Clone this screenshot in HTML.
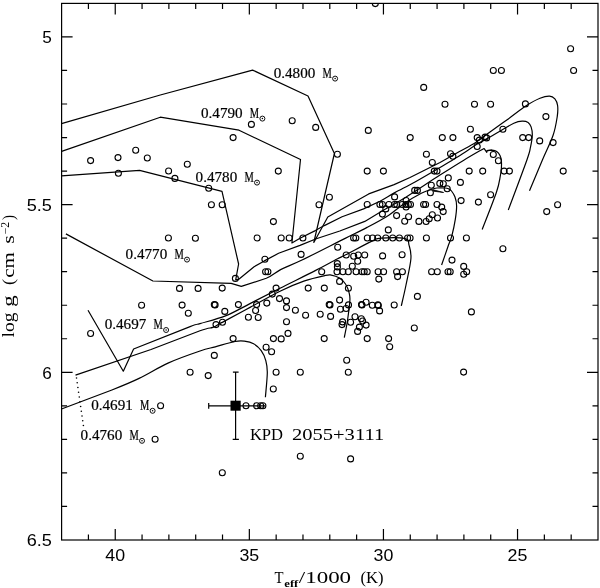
<!DOCTYPE html>
<html><head><meta charset="utf-8"><style>
html,body{margin:0;padding:0;background:#fff;}
svg{display:block;filter:grayscale(1);}
</style></head><body>
<svg width="600" height="588" viewBox="0 0 600 588">
<defs><clipPath id="cp"><rect x="61.6" y="3.4" width="536.4" height="536.6"/></clipPath></defs>
<rect x="61.6" y="3.4" width="536.4" height="536.6" fill="none" stroke="#000" stroke-width="1.2"/>
<path d="M571.18 540.0v-5.5M571.18 3.4v5.5M544.36 540.0v-5.5M544.36 3.4v5.5M517.54 540.0v-11M517.54 3.4v11M490.72 540.0v-5.5M490.72 3.4v5.5M463.90 540.0v-5.5M463.90 3.4v5.5M437.08 540.0v-5.5M437.08 3.4v5.5M410.26 540.0v-5.5M410.26 3.4v5.5M383.44 540.0v-11M383.44 3.4v11M356.62 540.0v-5.5M356.62 3.4v5.5M329.80 540.0v-5.5M329.80 3.4v5.5M302.98 540.0v-5.5M302.98 3.4v5.5M276.16 540.0v-5.5M276.16 3.4v5.5M249.34 540.0v-11M249.34 3.4v11M222.52 540.0v-5.5M222.52 3.4v5.5M195.70 540.0v-5.5M195.70 3.4v5.5M168.88 540.0v-5.5M168.88 3.4v5.5M142.06 540.0v-5.5M142.06 3.4v5.5M115.24 540.0v-11M115.24 3.4v11M88.42 540.0v-5.5M88.42 3.4v5.5M61.6 36.94h11M598.0 36.94h-11M61.6 70.47h5.5M598.0 70.47h-5.5M61.6 104.01h5.5M598.0 104.01h-5.5M61.6 137.55h5.5M598.0 137.55h-5.5M61.6 171.09h5.5M598.0 171.09h-5.5M61.6 204.62h11M598.0 204.62h-11M61.6 238.16h5.5M598.0 238.16h-5.5M61.6 271.70h5.5M598.0 271.70h-5.5M61.6 305.24h5.5M598.0 305.24h-5.5M61.6 338.77h5.5M598.0 338.77h-5.5M61.6 372.31h11M598.0 372.31h-11M61.6 405.85h5.5M598.0 405.85h-5.5M61.6 439.39h5.5M598.0 439.39h-5.5M61.6 472.92h5.5M598.0 472.92h-5.5M61.6 506.46h5.5M598.0 506.46h-5.5" fill="none" stroke="#000" stroke-width="1.2"/>
<g font-family="Liberation Sans, sans-serif" font-size="17.2"><text x="105.3" y="560.9" textLength="19.8" lengthAdjust="spacingAndGlyphs">40</text><text x="239.4" y="560.9" textLength="19.8" lengthAdjust="spacingAndGlyphs">35</text><text x="373.5" y="560.9" textLength="19.8" lengthAdjust="spacingAndGlyphs">30</text><text x="507.6" y="560.9" textLength="19.8" lengthAdjust="spacingAndGlyphs">25</text><text x="51.9" y="43.3" text-anchor="end">5</text><text x="26.7" y="211.0" textLength="25.2" lengthAdjust="spacingAndGlyphs">5.5</text><text x="51.9" y="378.7" text-anchor="end">6</text><text x="26.7" y="546.4" textLength="25.2" lengthAdjust="spacingAndGlyphs">6.5</text></g>
<path d="M484.0 148.4 L486.8 152.3 L487.0 150.6 L492.0 150.2" fill="none" stroke="#000" stroke-width="1.2" stroke-linejoin="round"/>
<path d="M487.0 150.6 L492.0 150.2 C493.6 150.3 495.4 150.6 496.7 151.5 C498.0 152.4 499.2 153.9 500.0 155.5 C500.8 157.1 501.2 158.9 501.4 161.0 C501.6 163.1 501.6 165.5 501.4 168.0 C501.2 170.5 501.1 172.0 500.3 176.0 C499.5 180.0 499.5 183.1 496.5 192.0 C493.5 200.9 484.6 223.2 482.2 229.5" fill="none" stroke="#000" stroke-width="1.2" stroke-linejoin="round"/>
<path d="M61.5 123.7 L160.3 95.0 L252.6 70.1 L308.0 96.0 L334.4 153.5 L313.8 242.5 L327.8 217.0 L368.7 193.9 L394.1 184.6 L410.0 177.5 L425.0 170.0 L440.0 162.5 L459.5 151.5 C465.4 148.2 470.6 145.7 475.7 142.4 C480.8 139.1 484.6 135.8 490.0 131.9 C495.4 128.0 501.9 123.5 507.9 119.2 C513.9 114.9 520.4 109.6 525.7 106.1 C531.1 102.6 536.0 99.9 540.0 98.3 C544.0 96.7 547.0 96.1 549.5 96.2 C552.0 96.3 553.5 97.4 554.9 98.9 C556.2 100.5 557.2 102.6 557.6 105.5 C558.0 108.4 558.0 111.2 557.3 116.2 C556.5 121.2 555.6 127.9 553.1 135.2 C550.6 142.5 546.3 150.8 542.4 160.0 C538.5 169.2 531.6 185.6 529.5 190.7" fill="none" stroke="#000" stroke-width="1.2" stroke-linejoin="round"/>
<path d="M61.6 151.4 L160.3 117.2 L239.0 130.2 L300.5 159.5 L291.9 243.0 L300.0 238.3 L315.3 230.6 L324.3 225.6 L342.1 216.7 L363.6 208.9 L380.0 201.2 C385.2 198.5 389.0 195.8 394.8 192.6 C400.6 189.4 407.5 186.1 415.0 181.9 C422.5 177.7 432.9 171.6 440.0 167.4 C447.1 163.2 451.5 160.7 457.9 156.7 C464.2 152.7 472.8 146.9 478.1 143.6 C483.5 140.3 486.0 139.3 490.0 137.0 C494.0 134.7 497.9 132.2 501.9 129.9 C505.9 127.6 510.4 124.8 513.8 123.3 C517.2 121.8 519.7 121.3 522.1 121.2 C524.5 121.1 526.6 121.5 528.1 122.4 C529.6 123.4 530.4 124.8 531.1 126.9 C531.8 129.0 532.4 131.8 532.3 135.2 C532.2 138.6 531.4 143.0 530.5 147.1 C529.6 151.2 530.6 149.5 526.9 160.0 C523.2 170.5 511.4 201.7 508.3 210.0" fill="none" stroke="#000" stroke-width="1.2" stroke-linejoin="round"/>
<path d="M61.5 175.9 L139.6 170.4 L222.0 191.4 L238.6 264.0 L235.7 279.8 L238.8 279.3 L254.1 266.7 L264.3 260.9 L278.6 253.3 L300.0 245.4 L316.3 238.8 L339.8 231.0 L364.8 221.4 L382.9 210.5 C389.6 206.6 395.5 203.6 405.0 197.7 C414.5 191.8 430.2 181.3 440.0 175.1 C449.8 168.8 456.5 164.6 463.8 160.2 C471.1 155.8 480.6 150.4 484.0 148.4" fill="none" stroke="#000" stroke-width="1.2" stroke-linejoin="round"/>
<path d="M65.9 233.9 L152.9 281.0 L231.1 283.4 L241.3 286.4 L266.3 278.3 C272.9 275.5 274.7 272.7 280.6 269.6 C286.6 266.6 291.1 265.2 302.0 260.0 C312.9 254.8 334.8 243.5 345.7 238.1 C356.6 232.7 359.9 231.2 367.1 227.4 C374.3 223.6 382.5 219.3 388.8 215.2 C395.1 211.1 399.6 206.7 405.0 203.0 C410.4 199.3 416.9 195.6 421.3 193.3 C425.8 191.0 429.1 190.1 431.7 189.2 C434.3 188.3 434.8 188.2 437.0 188.0 C439.2 187.8 443.1 187.9 445.0 188.0 C446.9 188.1 447.4 188.3 448.5 188.8 C449.6 189.3 450.4 189.6 451.5 191.0 C452.6 192.4 454.1 194.5 455.0 197.0 C455.9 199.5 456.6 202.1 456.6 205.8 C456.7 209.5 456.1 214.4 455.3 219.4 C454.5 224.4 453.0 231.4 451.9 235.7 C450.8 240.0 450.2 240.1 448.5 245.0 C446.8 249.9 442.8 261.7 441.6 265.0" fill="none" stroke="#000" stroke-width="1.2" stroke-linejoin="round"/>
<path d="M75.5 375.1 L151.0 349.5 L200.0 330.8 C210.3 327.1 209.5 328.6 212.8 327.4 C216.1 326.2 217.5 324.7 219.6 323.6 C221.7 322.5 220.4 323.3 225.5 320.6 C230.6 317.9 240.9 312.3 250.0 307.4 C259.1 302.5 271.0 295.6 280.0 291.2 C289.0 286.8 296.3 283.7 303.8 281.1 C311.3 278.5 320.6 276.5 325.2 275.5 C329.8 274.5 328.8 274.7 331.2 275.1 C333.6 275.5 337.1 276.6 339.5 278.1 C341.9 279.6 343.9 281.6 345.5 284.0 C347.1 286.4 348.3 289.7 349.0 292.4 C349.7 295.1 350.1 295.5 349.9 300.2 C349.6 304.9 348.4 314.2 347.5 320.5 C346.6 326.8 344.8 334.8 344.3 337.7" fill="none" stroke="#000" stroke-width="1.2" stroke-linejoin="round"/>
<path d="M88.0 310.2 L123.3 371.2 L133.6 349.0 L190.1 326.6 C201.2 322.4 194.1 325.4 200.0 323.6 C205.9 321.8 217.2 319.2 225.5 315.9 C233.8 312.6 240.9 308.2 250.0 303.6 C259.1 299.0 269.1 293.7 280.0 288.2 C290.9 282.7 306.2 275.3 315.7 270.4 C325.2 265.5 332.1 261.6 337.1 259.0 C342.1 256.4 339.9 257.8 345.7 254.8 C351.5 251.8 366.0 243.9 371.9 241.1 C377.8 238.3 375.5 238.5 381.0 238.1 C386.5 237.7 400.3 237.4 405.0 238.6 C409.7 239.8 408.1 242.1 409.1 245.4 C410.1 248.8 411.4 252.1 410.9 258.7 C410.4 265.3 407.6 277.1 406.0 285.0 C404.4 292.9 402.1 302.4 401.3 305.9" fill="none" stroke="#000" stroke-width="1.2" stroke-linejoin="round"/>
<path d="M61.5 409.0 L111.9 390.0 C124.8 384.9 129.8 382.9 139.1 378.4 C148.4 373.9 157.8 367.7 168.0 363.1 C178.2 358.5 192.1 353.7 200.0 351.0 C207.9 348.3 209.4 348.4 215.3 346.8 C221.2 345.2 230.3 342.4 235.2 341.5 C240.0 340.6 241.3 340.8 244.4 341.2 C247.5 341.6 250.8 342.2 253.6 343.8 C256.4 345.4 259.2 347.9 261.2 350.7 C263.2 353.5 264.8 356.9 265.8 360.6 C266.8 364.3 267.4 366.8 267.3 372.9 C267.2 379.0 265.7 393.2 265.4 397.3" fill="none" stroke="#000" stroke-width="1.2" stroke-linejoin="round"/>
<path d="M432.5 189.6 L443.6 192.5 L433.5 191.2" fill="#000" stroke="#000" stroke-width="0.8" stroke-linejoin="round"/>
<g clip-path="url(#cp)" fill="none" stroke="#000" stroke-width="1.1"><circle cx="90.6" cy="160.6" r="3.0"/><circle cx="118.0" cy="157.6" r="3.0"/><circle cx="135.7" cy="150.2" r="3.0"/><circle cx="147.3" cy="158.0" r="3.0"/><circle cx="118.4" cy="173.3" r="3.0"/><circle cx="168.6" cy="171.0" r="3.0"/><circle cx="174.9" cy="178.4" r="3.0"/><circle cx="168.4" cy="238.0" r="3.0"/><circle cx="187.3" cy="164.2" r="3.0"/><circle cx="195.4" cy="238.2" r="3.0"/><circle cx="179.5" cy="288.4" r="3.0"/><circle cx="198.1" cy="288.4" r="3.0"/><circle cx="182.1" cy="305.1" r="3.0"/><circle cx="188.3" cy="313.3" r="3.0"/><circle cx="190.1" cy="372.3" r="3.0"/><circle cx="141.6" cy="305.3" r="3.0"/><circle cx="90.6" cy="333.5" r="3.0"/><circle cx="160.6" cy="405.8" r="3.0"/><circle cx="155.1" cy="439.3" r="3.0"/><circle cx="375.3" cy="3.6" r="3.0"/><circle cx="570.6" cy="48.8" r="3.0"/><circle cx="251.4" cy="124.4" r="3.0"/><circle cx="233.1" cy="137.6" r="3.0"/><circle cx="292.2" cy="120.8" r="3.0"/><circle cx="315.7" cy="127.4" r="3.0"/><circle cx="423.7" cy="87.4" r="3.0"/><circle cx="368.3" cy="130.4" r="3.0"/><circle cx="410.2" cy="137.6" r="3.0"/><circle cx="493.3" cy="70.5" r="3.0"/><circle cx="501.4" cy="70.5" r="3.0"/><circle cx="445.0" cy="104.2" r="3.0"/><circle cx="474.5" cy="104.2" r="3.0"/><circle cx="490.6" cy="104.2" r="3.0"/><circle cx="470.4" cy="129.2" r="3.0"/><circle cx="502.9" cy="129.2" r="3.0"/><circle cx="442.3" cy="137.6" r="3.0"/><circle cx="452.9" cy="137.6" r="3.0"/><circle cx="477.2" cy="137.6" r="3.0"/><circle cx="479.4" cy="140.1" r="3.0"/><circle cx="485.1" cy="137.1" r="3.0"/><circle cx="486.6" cy="137.9" r="3.0"/><circle cx="477.2" cy="146.5" r="3.0"/><circle cx="573.6" cy="70.5" r="3.0"/><circle cx="525.4" cy="103.9" r="3.0"/><circle cx="545.9" cy="116.6" r="3.0"/><circle cx="522.7" cy="137.6" r="3.0"/><circle cx="528.7" cy="137.6" r="3.0"/><circle cx="539.7" cy="140.9" r="3.0"/><circle cx="553.1" cy="142.6" r="3.0"/><circle cx="278.3" cy="171.1" r="3.0"/><circle cx="208.7" cy="188.2" r="3.0"/><circle cx="211.4" cy="204.7" r="3.0"/><circle cx="222.2" cy="204.7" r="3.0"/><circle cx="273.4" cy="221.6" r="3.0"/><circle cx="337.4" cy="154.2" r="3.0"/><circle cx="329.4" cy="197.3" r="3.0"/><circle cx="319.0" cy="204.7" r="3.0"/><circle cx="426.4" cy="154.2" r="3.0"/><circle cx="432.3" cy="162.5" r="3.0"/><circle cx="367.2" cy="171.1" r="3.0"/><circle cx="383.4" cy="171.1" r="3.0"/><circle cx="434.3" cy="171.1" r="3.0"/><circle cx="437.0" cy="171.1" r="3.0"/><circle cx="431.3" cy="185.2" r="3.0"/><circle cx="439.8" cy="183.4" r="3.0"/><circle cx="430.4" cy="192.7" r="3.0"/><circle cx="414.7" cy="190.4" r="3.0"/><circle cx="417.4" cy="190.4" r="3.0"/><circle cx="394.6" cy="196.9" r="3.0"/><circle cx="367.2" cy="204.5" r="3.0"/><circle cx="379.9" cy="204.5" r="3.0"/><circle cx="382.4" cy="204.5" r="3.0"/><circle cx="388.9" cy="204.5" r="3.0"/><circle cx="394.4" cy="204.5" r="3.0"/><circle cx="396.7" cy="204.5" r="3.0"/><circle cx="402.2" cy="204.5" r="3.0"/><circle cx="405.8" cy="204.5" r="3.0"/><circle cx="408.4" cy="204.5" r="3.0"/><circle cx="410.5" cy="204.5" r="3.0"/><circle cx="423.6" cy="204.5" r="3.0"/><circle cx="425.6" cy="204.5" r="3.0"/><circle cx="437.0" cy="204.5" r="3.0"/><circle cx="406.1" cy="200.5" r="3.0"/><circle cx="406.1" cy="207.0" r="3.0"/><circle cx="385.8" cy="208.9" r="3.0"/><circle cx="382.4" cy="214.1" r="3.0"/><circle cx="396.6" cy="215.6" r="3.0"/><circle cx="408.6" cy="216.7" r="3.0"/><circle cx="404.7" cy="221.3" r="3.0"/><circle cx="418.9" cy="221.4" r="3.0"/><circle cx="426.1" cy="221.5" r="3.0"/><circle cx="429.2" cy="218.7" r="3.0"/><circle cx="432.3" cy="214.8" r="3.0"/><circle cx="437.5" cy="218.0" r="3.0"/><circle cx="388.3" cy="229.9" r="3.0"/><circle cx="450.5" cy="153.8" r="3.0"/><circle cx="452.9" cy="156.2" r="3.0"/><circle cx="493.3" cy="154.5" r="3.0"/><circle cx="498.4" cy="160.7" r="3.0"/><circle cx="469.2" cy="171.1" r="3.0"/><circle cx="482.7" cy="171.1" r="3.0"/><circle cx="504.1" cy="171.1" r="3.0"/><circle cx="509.4" cy="171.1" r="3.0"/><circle cx="448.3" cy="177.9" r="3.0"/><circle cx="460.4" cy="182.4" r="3.0"/><circle cx="443.3" cy="183.8" r="3.0"/><circle cx="447.2" cy="188.7" r="3.0"/><circle cx="490.6" cy="194.7" r="3.0"/><circle cx="461.1" cy="200.6" r="3.0"/><circle cx="478.4" cy="202.1" r="3.0"/><circle cx="441.7" cy="207.1" r="3.0"/><circle cx="443.2" cy="211.6" r="3.0"/><circle cx="563.2" cy="171.1" r="3.0"/><circle cx="557.6" cy="204.7" r="3.0"/><circle cx="546.7" cy="211.6" r="3.0"/><circle cx="257.1" cy="238.0" r="3.0"/><circle cx="264.9" cy="259.2" r="3.0"/><circle cx="265.6" cy="271.7" r="3.0"/><circle cx="267.9" cy="271.7" r="3.0"/><circle cx="235.4" cy="278.4" r="3.0"/><circle cx="222.2" cy="288.1" r="3.0"/><circle cx="276.1" cy="288.1" r="3.0"/><circle cx="272.3" cy="294.1" r="3.0"/><circle cx="279.5" cy="298.6" r="3.0"/><circle cx="214.3" cy="304.6" r="3.0"/><circle cx="215.1" cy="304.9" r="3.0"/><circle cx="238.4" cy="304.6" r="3.0"/><circle cx="256.6" cy="304.6" r="3.0"/><circle cx="266.8" cy="303.1" r="3.0"/><circle cx="224.8" cy="311.4" r="3.0"/><circle cx="255.6" cy="310.5" r="3.0"/><circle cx="281.2" cy="238.0" r="3.0"/><circle cx="289.2" cy="238.0" r="3.0"/><circle cx="302.9" cy="238.0" r="3.0"/><circle cx="353.6" cy="238.0" r="3.0"/><circle cx="355.8" cy="238.0" r="3.0"/><circle cx="337.7" cy="247.3" r="3.0"/><circle cx="301.1" cy="254.4" r="3.0"/><circle cx="346.2" cy="255.0" r="3.0"/><circle cx="353.7" cy="256.3" r="3.0"/><circle cx="358.3" cy="255.0" r="3.0"/><circle cx="357.7" cy="261.3" r="3.0"/><circle cx="352.3" cy="266.3" r="3.0"/><circle cx="337.3" cy="263.6" r="3.0"/><circle cx="337.4" cy="266.9" r="3.0"/><circle cx="321.7" cy="271.7" r="3.0"/><circle cx="337.0" cy="271.7" r="3.0"/><circle cx="342.9" cy="271.7" r="3.0"/><circle cx="348.3" cy="271.7" r="3.0"/><circle cx="356.1" cy="271.7" r="3.0"/><circle cx="339.6" cy="281.4" r="3.0"/><circle cx="308.2" cy="288.1" r="3.0"/><circle cx="324.3" cy="288.1" r="3.0"/><circle cx="348.4" cy="288.2" r="3.0"/><circle cx="286.5" cy="300.9" r="3.0"/><circle cx="286.5" cy="307.6" r="3.0"/><circle cx="339.6" cy="300.1" r="3.0"/><circle cx="329.2" cy="304.6" r="3.0"/><circle cx="330.0" cy="304.9" r="3.0"/><circle cx="348.5" cy="304.9" r="3.0"/><circle cx="340.4" cy="309.3" r="3.0"/><circle cx="346.1" cy="308.5" r="3.0"/><circle cx="367.3" cy="238.0" r="3.0"/><circle cx="372.6" cy="238.0" r="3.0"/><circle cx="377.7" cy="238.0" r="3.0"/><circle cx="385.8" cy="238.0" r="3.0"/><circle cx="392.7" cy="238.0" r="3.0"/><circle cx="399.4" cy="238.0" r="3.0"/><circle cx="407.6" cy="238.0" r="3.0"/><circle cx="410.1" cy="238.0" r="3.0"/><circle cx="426.4" cy="238.0" r="3.0"/><circle cx="364.7" cy="255.0" r="3.0"/><circle cx="382.6" cy="255.9" r="3.0"/><circle cx="402.1" cy="254.8" r="3.0"/><circle cx="362.0" cy="271.7" r="3.0"/><circle cx="364.2" cy="271.7" r="3.0"/><circle cx="367.2" cy="271.7" r="3.0"/><circle cx="378.1" cy="271.7" r="3.0"/><circle cx="383.6" cy="271.7" r="3.0"/><circle cx="396.6" cy="271.7" r="3.0"/><circle cx="402.4" cy="271.7" r="3.0"/><circle cx="431.6" cy="271.7" r="3.0"/><circle cx="437.3" cy="271.7" r="3.0"/><circle cx="378.8" cy="279.1" r="3.0"/><circle cx="397.6" cy="276.6" r="3.0"/><circle cx="417.4" cy="296.4" r="3.0"/><circle cx="362.0" cy="305.0" r="3.0"/><circle cx="366.1" cy="302.3" r="3.0"/><circle cx="372.3" cy="305.2" r="3.0"/><circle cx="377.9" cy="304.9" r="3.0"/><circle cx="394.2" cy="305.0" r="3.0"/><circle cx="450.5" cy="238.0" r="3.0"/><circle cx="466.4" cy="238.0" r="3.0"/><circle cx="502.9" cy="248.8" r="3.0"/><circle cx="452.0" cy="260.1" r="3.0"/><circle cx="463.7" cy="266.4" r="3.0"/><circle cx="448.0" cy="271.7" r="3.0"/><circle cx="450.2" cy="271.7" r="3.0"/><circle cx="466.7" cy="271.7" r="3.0"/><circle cx="463.7" cy="274.2" r="3.0"/><circle cx="248.4" cy="317.2" r="3.0"/><circle cx="258.2" cy="317.5" r="3.0"/><circle cx="216.0" cy="324.6" r="3.0"/><circle cx="222.5" cy="322.2" r="3.0"/><circle cx="233.1" cy="338.6" r="3.0"/><circle cx="273.4" cy="338.6" r="3.0"/><circle cx="266.1" cy="347.2" r="3.0"/><circle cx="271.6" cy="351.7" r="3.0"/><circle cx="214.3" cy="355.4" r="3.0"/><circle cx="276.1" cy="372.3" r="3.0"/><circle cx="208.2" cy="375.6" r="3.0"/><circle cx="273.3" cy="389.0" r="3.0"/><circle cx="295.4" cy="310.2" r="3.0"/><circle cx="305.6" cy="315.3" r="3.0"/><circle cx="320.2" cy="314.2" r="3.0"/><circle cx="330.6" cy="316.4" r="3.0"/><circle cx="286.5" cy="321.7" r="3.0"/><circle cx="288.0" cy="333.4" r="3.0"/><circle cx="281.2" cy="338.9" r="3.0"/><circle cx="324.2" cy="338.6" r="3.0"/><circle cx="342.6" cy="321.9" r="3.0"/><circle cx="342.0" cy="324.6" r="3.0"/><circle cx="350.6" cy="322.2" r="3.0"/><circle cx="355.0" cy="316.8" r="3.0"/><circle cx="359.4" cy="327.1" r="3.0"/><circle cx="357.6" cy="331.4" r="3.0"/><circle cx="346.7" cy="360.2" r="3.0"/><circle cx="300.3" cy="372.2" r="3.0"/><circle cx="348.3" cy="372.2" r="3.0"/><circle cx="379.6" cy="310.9" r="3.0"/><circle cx="361.3" cy="318.7" r="3.0"/><circle cx="362.6" cy="321.0" r="3.0"/><circle cx="366.1" cy="325.1" r="3.0"/><circle cx="367.2" cy="338.6" r="3.0"/><circle cx="388.6" cy="338.6" r="3.0"/><circle cx="389.7" cy="346.7" r="3.0"/><circle cx="414.3" cy="328.0" r="3.0"/><circle cx="361.5" cy="304.6" r="3.0"/><circle cx="378.3" cy="305.5" r="3.0"/><circle cx="471.4" cy="311.9" r="3.0"/><circle cx="463.6" cy="372.1" r="3.0"/><circle cx="300.3" cy="456.2" r="3.0"/><circle cx="350.6" cy="458.9" r="3.0"/><circle cx="222.3" cy="472.7" r="3.0"/><circle cx="246.0" cy="405.8" r="3.0"/><circle cx="256.7" cy="405.8" r="3.0"/><circle cx="260.7" cy="405.8" r="3.0"/><circle cx="262.9" cy="405.8" r="3.0"/></g>
<g font-family="Liberation Serif, serif" font-size="13.7" fill="#000" stroke="#000" stroke-width="0.2">
<text x="273.7" y="77.7" textLength="41.6" lengthAdjust="spacingAndGlyphs">0.4800</text>
<text x="322.5" y="77.7" textLength="9.3" lengthAdjust="spacingAndGlyphs">M</text>
<text x="201.0" y="117.7" textLength="41.6" lengthAdjust="spacingAndGlyphs">0.4790</text>
<text x="249.8" y="117.7" textLength="9.3" lengthAdjust="spacingAndGlyphs">M</text>
<text x="195.6" y="181.7" textLength="41.6" lengthAdjust="spacingAndGlyphs">0.4780</text>
<text x="244.4" y="181.7" textLength="9.3" lengthAdjust="spacingAndGlyphs">M</text>
<text x="125.6" y="258.7" textLength="41.6" lengthAdjust="spacingAndGlyphs">0.4770</text>
<text x="174.4" y="258.7" textLength="9.3" lengthAdjust="spacingAndGlyphs">M</text>
<text x="104.7" y="329.1" textLength="41.6" lengthAdjust="spacingAndGlyphs">0.4697</text>
<text x="153.5" y="329.1" textLength="9.3" lengthAdjust="spacingAndGlyphs">M</text>
<text x="91.2" y="409.9" textLength="41.6" lengthAdjust="spacingAndGlyphs">0.4691</text>
<text x="140.0" y="409.9" textLength="9.3" lengthAdjust="spacingAndGlyphs">M</text>
<text x="80.6" y="439.9" textLength="41.6" lengthAdjust="spacingAndGlyphs">0.4760</text>
<text x="129.4" y="439.9" textLength="9.3" lengthAdjust="spacingAndGlyphs">M</text>
</g>
<g fill="none" stroke="#000" stroke-width="0.95">
<circle cx="335.1" cy="78.6" r="2.5"/>
<circle cx="262.4" cy="118.6" r="2.5"/>
<circle cx="257.0" cy="182.6" r="2.5"/>
<circle cx="187.0" cy="259.6" r="2.5"/>
<circle cx="166.1" cy="330.0" r="2.5"/>
<circle cx="152.6" cy="410.8" r="2.5"/>
<circle cx="142.0" cy="440.8" r="2.5"/>
</g><g fill="#000">
<circle cx="335.1" cy="78.6" r="0.75"/>
<circle cx="262.4" cy="118.6" r="0.75"/>
<circle cx="257.0" cy="182.6" r="0.75"/>
<circle cx="187.0" cy="259.6" r="0.75"/>
<circle cx="166.1" cy="330.0" r="0.75"/>
<circle cx="152.6" cy="410.8" r="0.75"/>
<circle cx="142.0" cy="440.8" r="0.75"/>
</g>
<g fill="#000"><circle cx="76.52" cy="377.97" r="0.8"/><circle cx="77.20" cy="382.72" r="0.8"/><circle cx="77.89" cy="387.47" r="0.8"/><circle cx="78.58" cy="392.22" r="0.8"/><circle cx="79.27" cy="396.97" r="0.8"/><circle cx="79.95" cy="401.72" r="0.8"/><circle cx="80.64" cy="406.47" r="0.8"/><circle cx="81.33" cy="411.22" r="0.8"/><circle cx="82.02" cy="415.97" r="0.8"/><circle cx="82.71" cy="420.72" r="0.8"/><circle cx="83.39" cy="425.47" r="0.8"/></g>
<rect x="230.5" y="400.7" width="10.2" height="10" fill="#000"/>
<path d="M208.7 405.8H265.3M208.7 403V408.7M235.6 372.1V439.3M232.9 372.1H238.6M232.7 439.3H238.9" fill="none" stroke="#000" stroke-width="1.2"/>
<g font-family="Liberation Serif, serif" font-size="17"><text x="249.9" y="439.8" textLength="33.2" lengthAdjust="spacingAndGlyphs">KPD</text><text x="291.9" y="439.8" textLength="92.3" lengthAdjust="spacingAndGlyphs">2055+3111</text></g>
<g font-family="Liberation Serif, serif" font-size="17.2">
<text x="274.6" y="583" textLength="9" lengthAdjust="spacingAndGlyphs">T</text>
<text x="284.3" y="587.3" font-size="10" font-weight="bold" textLength="14" lengthAdjust="spacingAndGlyphs">eff</text>
<text x="298.8" y="583" textLength="52.3" lengthAdjust="spacingAndGlyphs">/1000</text>
<text x="360.6" y="583" textLength="23" lengthAdjust="spacingAndGlyphs">(K)</text>
</g>
<g font-family="Liberation Serif, serif" font-size="17.2">
<text transform="translate(14,337.5) rotate(-90)" font-size="17.2" textLength="24.9" lengthAdjust="spacingAndGlyphs">log</text>
<text transform="translate(14,307) rotate(-90)" font-size="17.2" textLength="11.8" lengthAdjust="spacingAndGlyphs">g</text>
<text transform="translate(14,285) rotate(-90)" font-size="17.2" textLength="6.0" lengthAdjust="spacingAndGlyphs">(</text>
<text transform="translate(14,277.8) rotate(-90)" font-size="17.2" textLength="25.5" lengthAdjust="spacingAndGlyphs">cm</text>
<text transform="translate(14,243.8) rotate(-90)" font-size="17.2" textLength="8.6" lengthAdjust="spacingAndGlyphs">s</text>
<text transform="translate(9.3,234.3) rotate(-90)" font-size="11.5" textLength="12.6" lengthAdjust="spacingAndGlyphs">−2</text>
<text transform="translate(14,220) rotate(-90)" font-size="17.2" textLength="5" lengthAdjust="spacingAndGlyphs">)</text>
</g>
</svg>
</body></html>
